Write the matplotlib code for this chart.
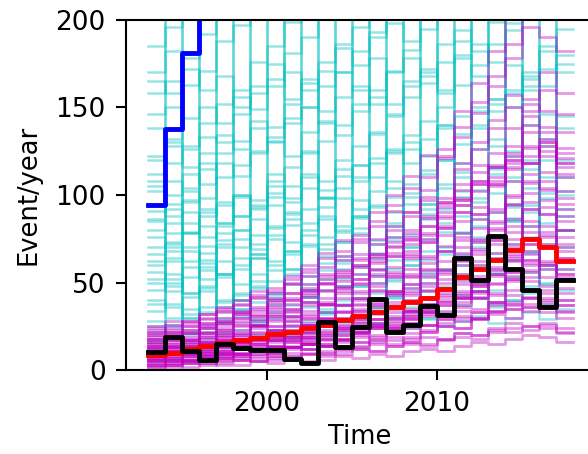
import matplotlib
matplotlib.use("Agg")
import matplotlib.pyplot as plt

years = list(range(1993, 2018))

# observed yearly counts
observed = [10.5, 19, 11, 5.7, 14.8, 12.4, 11.4, 11.4, 6.1, 4.2, 27.6, 13.3, 24.8,
            40.4, 21.9, 25.7, 36.8, 31.4, 64, 51.2, 76.4, 58, 45.5, 35.8, 51.6]
# mean of the fitted model
model_mean = [8.5, 9.7, 12, 13.5, 15.5, 17, 18.5, 20.5, 22, 24, 26, 28.5, 31,
              33.3, 36.2, 39, 41, 46.5, 53, 58, 63, 68.5, 74.7, 70.3, 62.4]
# runaway curve (leaves the plot after 1995)
runaway = [94, 137.5, 181, 260]

# prior samples (cyan)
prior = [
    [18, 320, 22, 320, 15, 320, 28, 320, 20, 320, 35, 320, 25, 320, 42, 320, 30, 320, 55, 320, 38, 320, 48, 320, 62],
    [320, 30, 320, 12, 320, 40, 320, 18, 320, 26, 320, 48, 320, 33, 320, 24, 320, 66, 320, 45, 320, 58, 320, 72, 320],
    [185, 196, 230],
    [170, 182, 178, 205],
    [158, 165, 181, 192, 215],
    [146, 150, 163, 171, 188, 197, 220],
    [122, 130, 128, 141, 152, 160, 176, 185, 199, 215],
    [112, 118, 126, 133, 130, 146, 158, 166, 181, 190, 210],
    [102, 108, 104, 115, 124, 131, 142, 139, 152, 164, 171, 186, 196, 212],
    [91, 95, 102, 98, 110, 117, 125, 133, 141, 150, 162, 170, 182, 193, 208],
    [80, 84, 79, 88, 94, 100, 97, 108, 116, 124, 131, 140, 152, 160, 171, 183, 195, 213],
    [70, 73, 78, 76, 82, 88, 92, 99, 105, 112, 108, 120, 128, 136, 145, 156, 164, 176, 188, 201],
    [60, 64, 62, 67, 72, 70, 77, 82, 86, 92, 98, 104, 110, 118, 125, 134, 142, 150, 163, 174, 186, 198, 212],
    [50, 48, 53, 57, 55, 60, 64, 62, 68, 72, 76, 82, 87, 93, 99, 106, 112, 120, 129, 138, 148, 158, 170, 182, 195],
    [165, 158, 172, 160, 168, 150, 162, 175, 155, 166, 148, 170, 160, 178, 152, 165, 172, 158, 180, 168, 155, 174, 162, 185, 170],
    [95, 88, 97, 92, 84, 99, 93, 105, 98, 110, 103, 115, 108, 121, 126, 118, 132, 140, 135, 148, 155, 150, 166, 172, 180],
    [86, 92, 84, 90, 96, 88, 94, 101, 96, 104, 99, 111, 117, 110, 124, 130, 122, 138, 145, 140, 152, 160, 168, 162, 175],
    [76, 70, 78, 82, 74, 80, 86, 81, 89, 84, 93, 98, 92, 102, 108, 101, 114, 120, 113, 126, 132, 125, 140, 146, 138],
    [66, 72, 68, 63, 70, 75, 69, 77, 73, 80, 86, 79, 88, 94, 90, 99, 95, 104, 110, 103, 116, 122, 115, 128, 120],
    [56, 52, 59, 61, 55, 58, 64, 60, 66, 71, 65, 73, 78, 74, 82, 77, 86, 92, 88, 96, 101, 95, 104, 110, 102],
    [46, 50, 44, 48, 53, 49, 55, 51, 58, 54, 61, 65, 59, 67, 63, 70, 75, 68, 78, 82, 76, 85, 90, 84, 92],
    [40, 36, 42, 45, 39, 43, 47, 41, 49, 46, 52, 48, 55, 58, 52, 60, 63, 57, 66, 70, 64, 72, 76, 70, 80],
    [34, 38, 32, 36, 40, 35, 39, 43, 37, 42, 46, 40, 48, 44, 51, 47, 54, 58, 52, 60, 56, 63, 67, 60, 70],
    [28, 25, 30, 33, 27, 31, 29, 34, 31, 36, 33, 38, 41, 36, 43, 40, 45, 48, 43, 50, 46, 53, 56, 50, 58],
    [22, 26, 20, 24, 28, 23, 26, 30, 25, 28, 32, 27, 31, 35, 30, 34, 38, 33, 37, 41, 36, 40, 44, 38, 46],
    [16, 19, 14, 18, 21, 17, 20, 23, 19, 22, 25, 21, 24, 27, 23, 26, 29, 25, 28, 31, 27, 30, 33, 29, 35],
    [120, 128, 116, 124, 134, 126, 138, 131, 144, 150, 141, 156, 162, 152, 170, 178, 168, 186, 194, 182, 199, 212],
    [138, 132, 144, 150, 141, 156, 149, 162, 170, 160, 176, 184, 174, 190, 198, 188, 205],
    [108, 100, 112, 106, 118, 111, 124, 130, 122, 136, 142, 134, 148, 156, 146, 162, 170, 160, 178, 186, 176, 194, 205],
    [85, 62, 90, 71, 55, 80, 66, 94, 58, 77, 88, 63, 97, 72, 84, 60, 92, 106, 79, 98, 115, 87, 120, 101, 110],
    [62, 45, 70, 52, 78, 40, 66, 57, 83, 49, 72, 61, 88, 54, 76, 95, 68, 84, 102, 73, 90, 110, 82, 98, 88],
    [38, 55, 30, 47, 62, 35, 51, 44, 68, 39, 57, 73, 48, 64, 41, 70, 56, 79, 60, 86, 67, 93, 74, 58, 80],
    [25, 18, 35, 22, 30, 44, 27, 38, 21, 46, 33, 52, 29, 41, 58, 36, 50, 31, 63, 45, 55, 40, 68, 49, 62],
    [105, 78, 96, 118, 84, 100, 72, 112, 90, 125, 98, 80, 117, 135, 104, 126, 95, 140, 118, 150, 128, 108, 160, 132, 145],
    [52, 68, 44, 59, 36, 64, 48, 75, 55, 42, 69, 58, 81, 50, 74, 63, 89, 70, 99, 76, 112, 85, 94, 120, 100],
]

# posterior samples (magenta)
posterior = [
    [2, 3, 2, 4, 3, 3, 5, 4, 6, 5, 6, 8, 7, 9, 8, 11, 12, 11, 14, 16, 15, 18, 20, 19, 16],
    [4, 3, 5, 4, 6, 7, 5, 8, 7, 9, 10, 9, 12, 11, 14, 16, 15, 18, 21, 20, 24, 27, 25, 26, 22],
    [3, 5, 4, 6, 7, 6, 9, 8, 10, 12, 11, 14, 13, 17, 19, 18, 22, 25, 24, 29, 32, 30, 36, 33, 30],
    [6, 5, 7, 6, 8, 10, 9, 11, 13, 12, 15, 17, 16, 20, 22, 21, 26, 29, 28, 33, 37, 35, 41, 39, 34],
    [5, 7, 6, 8, 9, 8, 11, 13, 12, 15, 14, 18, 20, 19, 24, 27, 26, 31, 34, 33, 39, 43, 41, 46, 40],
    [7, 6, 8, 10, 9, 12, 11, 14, 16, 15, 19, 18, 22, 25, 24, 29, 32, 31, 37, 41, 39, 46, 51, 48, 44],
    [8, 9, 8, 11, 10, 13, 15, 14, 17, 19, 18, 23, 25, 24, 29, 33, 31, 37, 41, 45, 43, 51, 56, 53, 47],
    [6, 8, 9, 8, 11, 12, 14, 13, 17, 16, 20, 23, 22, 27, 26, 31, 35, 34, 41, 45, 44, 52, 57, 60, 52],
    [9, 8, 10, 12, 11, 14, 13, 17, 19, 18, 22, 25, 24, 29, 33, 32, 38, 42, 41, 49, 54, 52, 61, 58, 55],
    [10, 11, 10, 13, 15, 14, 17, 19, 18, 22, 25, 24, 29, 32, 35, 34, 41, 46, 44, 52, 58, 56, 66, 62, 58],
    [8, 10, 12, 11, 14, 16, 15, 19, 21, 20, 25, 28, 27, 33, 36, 35, 42, 47, 51, 50, 59, 65, 63, 72, 63],
    [11, 10, 13, 15, 14, 17, 20, 19, 23, 26, 25, 30, 34, 33, 39, 43, 42, 50, 55, 54, 63, 70, 68, 77, 68],
    [12, 13, 12, 16, 17, 20, 19, 23, 26, 25, 30, 33, 37, 36, 43, 47, 46, 55, 60, 66, 64, 75, 82, 79, 72],
    [10, 12, 14, 13, 17, 19, 18, 23, 25, 29, 28, 34, 38, 37, 45, 49, 53, 52, 62, 68, 74, 72, 85, 82, 76],
    [13, 12, 15, 18, 17, 21, 24, 23, 28, 31, 30, 37, 41, 45, 44, 53, 58, 57, 67, 74, 81, 79, 92, 89, 80],
    [14, 16, 15, 19, 21, 20, 25, 28, 31, 30, 37, 41, 40, 48, 53, 58, 57, 68, 74, 81, 80, 94, 101, 97, 88],
    [12, 15, 17, 16, 20, 23, 26, 25, 31, 34, 38, 37, 45, 50, 55, 54, 65, 71, 78, 86, 85, 99, 108, 104, 95],
    [15, 14, 18, 21, 20, 25, 28, 31, 30, 37, 41, 45, 44, 54, 59, 65, 64, 77, 85, 93, 92, 108, 118, 113, 102],
    [16, 18, 17, 21, 24, 27, 26, 32, 35, 39, 38, 47, 52, 57, 56, 68, 75, 82, 90, 89, 106, 116, 127, 122, 110],
    [18, 17, 21, 24, 23, 28, 31, 35, 34, 42, 46, 51, 50, 61, 67, 74, 73, 88, 97, 106, 117, 115, 136, 130, 118],
    [17, 20, 19, 24, 27, 30, 29, 36, 40, 44, 49, 48, 59, 65, 71, 78, 77, 93, 103, 113, 124, 122, 145, 139, 127],
    [20, 19, 23, 27, 26, 32, 35, 39, 38, 47, 52, 57, 63, 62, 76, 80, 88, 95, 94, 108, 116, 124, 122, 130, 118],
    [19, 22, 21, 26, 30, 33, 32, 40, 44, 49, 54, 53, 66, 72, 80, 88, 97, 96, 118, 130, 143, 157, 155, 170, 158],
    [22, 21, 25, 29, 28, 33, 36, 40, 44, 43, 50, 55, 60, 66, 65, 75, 82, 90, 98, 106, 105, 118, 128, 125, 112],
    [21, 24, 28, 27, 33, 37, 41, 45, 50, 56, 55, 68, 75, 82, 91, 90, 110, 121, 133, 147, 162, 178, 196, 190, 182],
    [24, 23, 28, 32, 35, 34, 43, 47, 52, 58, 64, 63, 77, 85, 94, 104, 103, 126, 139, 153, 168, 186, 205],
    [4, 6, 5, 7, 9, 8, 11, 10, 14, 16, 15, 20, 22, 26, 25, 31, 35, 40, 39, 48, 55, 62, 60, 71, 64],
    [7, 9, 11, 10, 13, 15, 18, 17, 22, 25, 29, 28, 35, 40, 45, 44, 55, 62, 70, 69, 84, 95, 107, 103, 92],
    [3, 4, 6, 5, 7, 9, 8, 11, 13, 15, 14, 18, 21, 24, 23, 30, 34, 39, 45, 44, 55, 63, 72, 70, 64],
    [16, 15, 17, 16, 19, 18, 21, 20, 23, 22, 25, 24, 28, 27, 30, 29, 33, 32, 36, 35, 39, 38, 42, 40, 37],
    [13, 14, 13, 15, 14, 16, 18, 17, 19, 18, 21, 20, 23, 25, 24, 27, 26, 29, 31, 30, 33, 35, 34, 37, 33],
    [9, 7, 10, 8, 11, 9, 12, 10, 13, 12, 14, 13, 16, 15, 17, 16, 19, 18, 21, 20, 23, 22, 25, 24, 21],
    [5, 4, 6, 8, 7, 9, 11, 10, 13, 15, 17, 16, 21, 24, 27, 26, 33, 37, 42, 41, 50, 56, 63, 61, 55],
    [11, 13, 12, 14, 17, 16, 19, 22, 21, 26, 29, 33, 32, 39, 44, 49, 48, 58, 65, 73, 72, 86, 96, 93, 85],
    [14, 13, 16, 19, 22, 21, 26, 29, 33, 32, 39, 44, 49, 55, 54, 66, 73, 81, 90, 89, 108, 120, 118, 132, 121],
    [18, 20, 23, 22, 27, 30, 34, 33, 40, 45, 50, 56, 55, 64, 70, 76, 82, 81, 94, 102, 110, 120, 118, 128, 116],
    [23, 26, 25, 30, 34, 38, 42, 41, 49, 54, 59, 65, 64, 75, 82, 90, 99, 98, 115, 126, 138, 150, 148, 160, 146],
    [2, 3, 4, 3, 5, 6, 5, 7, 8, 10, 9, 12, 14, 16, 15, 19, 22, 25, 24, 30, 34, 39, 38, 44, 40],
    [6, 7, 6, 9, 10, 12, 11, 14, 16, 19, 18, 22, 25, 29, 28, 34, 38, 43, 49, 48, 57, 64, 72, 70, 63],
    [9, 11, 10, 12, 14, 17, 16, 20, 22, 26, 25, 30, 34, 38, 37, 45, 50, 56, 63, 62, 74, 82, 92, 89, 80],
    [12, 11, 14, 16, 19, 18, 22, 25, 28, 27, 33, 37, 41, 46, 45, 55, 61, 68, 76, 75, 90, 100, 112, 108, 98],
    [15, 17, 16, 20, 23, 26, 25, 31, 35, 39, 38, 47, 52, 58, 65, 64, 78, 87, 97, 108, 106, 128, 140, 136, 124],
    [20, 22, 21, 25, 28, 32, 31, 37, 41, 46, 45, 54, 60, 66, 73, 72, 87, 96, 106, 117, 116, 138, 152, 148, 136],
    [7, 6, 8, 9, 8, 10, 12, 11, 13, 15, 14, 17, 19, 18, 22, 24, 23, 27, 30, 29, 34, 37, 36, 41, 37],
    [10, 9, 11, 13, 12, 15, 17, 16, 19, 21, 20, 24, 27, 26, 31, 34, 33, 39, 43, 42, 49, 54, 53, 60, 53],
    [3, 2, 4, 5, 4, 6, 7, 6, 8, 9, 8, 11, 12, 11, 14, 15, 14, 17, 19, 18, 22, 24, 23, 27, 24],
    [25, 28, 27, 32, 36, 40, 45, 44, 54, 60, 67, 74, 73, 90, 100, 111, 123, 122, 148, 164, 182, 202],
    [8, 10, 9, 11, 13, 12, 15, 17, 20, 19, 23, 26, 30, 29, 36, 40, 45, 44, 54, 60, 67, 66, 79, 76, 70],
]


def steps(vals):
    n = len(vals)
    x = years[:n] + [years[n - 1] + 1]
    y = list(vals) + [vals[-1]]
    return x, y


fig = plt.figure(figsize=(5.88, 4.54), dpi=100)
ax = fig.add_axes([0.215, 0.185, 0.795, 0.771])

for s in prior:
    x, y = steps(s)
    ax.step(x, y, where='post', color='c', alpha=0.4, lw=1.8)
for s in posterior:
    x, y = steps(s)
    ax.step(x, y, where='post', color='m', alpha=0.4, lw=2)

x, y = steps(model_mean)
ax.step(x, y, where='post', color='r', lw=3.5)
x, y = steps(observed)
ax.step(x, y, where='post', color='k', lw=3.5)
x, y = steps(runaway)
ax.step(x, y, where='post', color='b', lw=3.5)

ax.set_xlim(1991.75, 2019.25)
ax.set_ylim(0, 200)
ax.set_xticks([2000, 2010])
ax.set_yticks([0, 50, 100, 150, 200])
ax.tick_params(labelsize=19, length=7, width=1.5, pad=8)
for sp in ax.spines.values():
    sp.set_linewidth(1.5)
ax.set_xlabel('Time', fontsize=18.5, labelpad=5)
ax.set_ylabel('Event/year', fontsize=18.5, labelpad=10)

fig.savefig('out.png', dpi=100)
